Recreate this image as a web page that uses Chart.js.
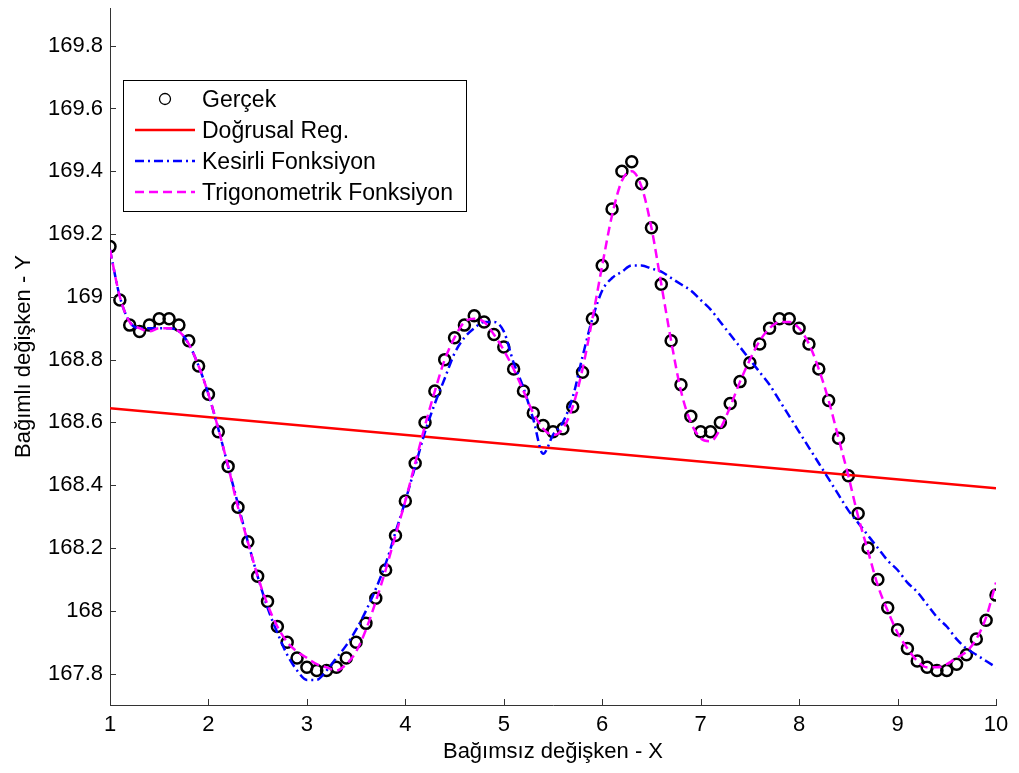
<!DOCTYPE html>
<html lang="tr">
<head>
<meta charset="UTF-8">
<title>Regresyon karşılaştırma</title>
<script src="https://cdn.jsdelivr.net/npm/chart.js@4.4.1/dist/chart.umd.min.js"></script>
<style>
    body { margin: 0; background: #fff; }
    #wrap { width: 1019px; height: 773px; }
</style>
</head>
<body>
<div id="wrap"><canvas id="chart" width="1019" height="773"></canvas></div>
<script>
// x değerleri (1..10, 0.1 adım)
const xVals = [1.0,1.1,1.2,1.3,1.4,1.5,1.6,1.7,1.8,1.9,
    2.0,2.1,2.2,2.3,2.4,2.5,2.6,2.7,2.8,2.9,
    3.0,3.1,3.2,3.3,3.4,3.5,3.6,3.7,3.8,3.9,
    4.0,4.1,4.2,4.3,4.4,4.5,4.6,4.7,4.8,4.9,
    5.0,5.1,5.2,5.3,5.4,5.5,5.6,5.7,5.8,5.9,
    6.0,6.1,6.2,6.3,6.4,6.5,6.6,6.7,6.8,6.9,
    7.0,7.1,7.2,7.3,7.4,7.5,7.6,7.7,7.8,7.9,
    8.0,8.1,8.2,8.3,8.4,8.5,8.6,8.7,8.8,8.9,
    9.0,9.1,9.2,9.3,9.4,9.5,9.6,9.7,9.8,9.9,
    10.0];

// Gerçek veriler
const gercek = [169.16,168.99,168.91,168.89,168.91,168.93,168.93,168.91,168.86,168.78,
    168.69,168.57,168.46,168.33,168.22,168.11,168.03,167.95,167.90,167.85,
    167.82,167.81,167.81,167.82,167.85,167.90,167.96,168.04,168.13,168.24,
    168.35,168.47,168.60,168.70,168.80,168.87,168.91,168.94,168.92,168.88,
    168.84,168.77,168.70,168.63,168.59,168.57,168.58,168.65,168.76,168.93,
    169.10,169.28,169.40,169.43,169.36,169.22,169.04,168.86,168.72,168.62,
    168.57,168.57,168.60,168.66,168.73,168.79,168.85,168.90,168.93,168.93,
    168.90,168.85,168.77,168.67,168.55,168.43,168.31,168.20,168.10,168.01,
    167.94,167.88,167.84,167.82,167.81,167.81,167.83,167.86,167.91,167.97,
    168.05];

// Doğrusal regresyon (uç noktalar)
const linX = [1, 10];
const linY = [168.645, 168.39];

// Kesirli fonksiyon
const kesirli = [169.15,169.00,168.92,168.90,168.90,168.90,168.90,168.89,168.85,168.78,
    168.69,168.58,168.46,168.34,168.22,168.11,168.01,167.93,167.86,167.81,
    167.78,167.78,167.81,167.85,167.89,167.94,168.00,168.07,168.15,168.25,
    168.35,168.46,168.57,168.66,168.74,168.82,168.87,168.90,168.92,168.92,
    168.89,168.79,168.71,168.61,168.50,168.56,168.60,168.68,168.81,168.93,
    169.02,169.06,169.08,169.10,169.10,169.09,169.08,169.06,169.04,169.02,
    168.99,168.96,168.92,168.88,168.84,168.80,168.76,168.72,168.67,168.62,
    168.57,168.52,168.47,168.42,168.37,168.32,168.28,168.24,168.20,168.16,
    168.13,168.09,168.06,168.02,167.98,167.95,167.91,167.88,167.86,167.84,
    167.82];

// Trigonometrik fonksiyon
const trigo = [169.15,169.00,168.92,168.90,168.89,168.90,168.90,168.89,168.85,168.78,
    168.69,168.58,168.46,168.33,168.22,168.11,168.02,167.95,167.90,167.87,
    167.85,167.83,167.82,167.81,167.83,167.87,167.94,168.03,168.13,168.24,
    168.35,168.47,168.59,168.70,168.80,168.87,168.92,168.93,168.92,168.88,
    168.83,168.77,168.70,168.63,168.58,168.56,168.58,168.65,168.77,168.93,
    169.10,169.26,169.37,169.40,169.35,169.22,169.04,168.86,168.70,168.60,
    168.55,168.54,168.58,168.65,168.73,168.80,168.86,168.90,168.92,168.92,
    168.90,168.85,168.77,168.67,168.55,168.43,168.30,168.19,168.08,168.00,
    167.93,167.88,167.84,167.82,167.82,167.83,167.85,167.87,167.91,167.98,
    168.09];

const xTicks = [1, 2, 3, 4, 5, 6, 7, 8, 9, 10];
const yTicks = [167.8, 168, 168.2, 168.4, 168.6, 168.8, 169, 169.2, 169.4, 169.6, 169.8];

const FONT = "'Liberation Sans', Arial, sans-serif";
const AXIS_COLOR = '#333';

const pts = (xs, ys) => xs.map((x, i) => ({ x: x, y: ys[i] }));

// içe dönük tik çizgileri + grafik içi lejant
const extras = {
    id: 'extras',
    afterDraw(chart) {
        const ctx = chart.ctx;
        const xs = chart.scales.x, ys = chart.scales.y;
        const area = chart.chartArea;
        ctx.save();
        ctx.strokeStyle = AXIS_COLOR;
        ctx.lineWidth = 1;
        ctx.beginPath();
        xs.ticks.forEach(t => {
            const px = Math.round(xs.getPixelForValue(t.value)) + 0.5;
            ctx.moveTo(px, area.bottom);
            ctx.lineTo(px, area.bottom - 6);
        });
        ys.ticks.forEach(t => {
            const py = Math.round(ys.getPixelForValue(t.value)) + 0.5;
            ctx.moveTo(area.left, py);
            ctx.lineTo(area.left + 6, py);
        });
        ctx.stroke();

        // lejant
        const box = { x: 123.5, y: 80.5, w: 343, h: 131 };
        ctx.fillStyle = '#fff';
        ctx.fillRect(box.x, box.y, box.w, box.h);
        ctx.strokeStyle = '#000';
        ctx.lineWidth = 1;
        ctx.strokeRect(box.x, box.y, box.w, box.h);

        const rows = [99, 130, 161, 192];
        ctx.font = '23px ' + FONT;
        ctx.textBaseline = 'middle';
        ctx.textAlign = 'left';
        chart.data.datasets.forEach((ds, i) => {
            const y = rows[i];
            if (ds.showLine === false) {
                ctx.beginPath();
                ctx.setLineDash([]);
                ctx.strokeStyle = ds.borderColor;
                ctx.lineWidth = 1.3;
                ctx.arc(165, y, 5.5, 0, Math.PI * 2);
                ctx.stroke();
            } else {
                ctx.beginPath();
                ctx.setLineDash(ds.borderDash || []);
                ctx.strokeStyle = ds.borderColor;
                ctx.lineWidth = ds.borderWidth;
                ctx.moveTo(135, y);
                ctx.lineTo(195, y);
                ctx.stroke();
            }
            ctx.setLineDash([]);
            ctx.fillStyle = '#000';
            ctx.fillText(ds.label, 202, y + 2);
        });
        ctx.restore();
    }
};

new Chart(document.getElementById('chart'), {
    type: 'line',
    data: {
        datasets: [
            {
                label: 'Gerçek',
                data: pts(xVals, gercek),
                showLine: false,
                pointStyle: 'circle',
                pointRadius: 5.5,
                pointBorderWidth: 2.5,
                borderColor: '#000',
                pointBackgroundColor: 'rgba(0,0,0,0)',
                backgroundColor: 'rgba(0,0,0,0)',
                order: 4
            },
            {
                label: 'Doğrusal Reg.',
                data: pts(linX, linY),
                borderColor: '#ff0000',
                borderWidth: 2.5,
                pointRadius: 0,
                order: 3
            },
            {
                label: 'Kesirli Fonksiyon',
                data: pts(xVals, kesirli),
                borderColor: '#0000ff',
                borderWidth: 2.5,
                borderDash: [9, 4, 2, 4],
                pointRadius: 0,
                cubicInterpolationMode: 'monotone',
                order: 2
            },
            {
                label: 'Trigonometrik Fonksiyon',
                data: pts(xVals, trigo),
                borderColor: '#ff00ff',
                borderWidth: 2.5,
                borderDash: [9, 5],
                pointRadius: 0,
                cubicInterpolationMode: 'monotone',
                order: 1
            }
        ]
    },
    options: {
        responsive: false,
        animation: false,
        events: [],
        layout: { padding: { top: 7, right: 23, left: 0, bottom: 0 } },
        plugins: {
            legend: { display: false },
            tooltip: { enabled: false }
        },
        scales: {
            x: {
                type: 'linear',
                position: 'bottom',
                min: 1,
                max: 10,
                grid: { display: false, drawTicks: false },
                border: { display: true, color: AXIS_COLOR, width: 1 },
                afterBuildTicks: axis => { axis.ticks = xTicks.map(v => ({ value: v })); },
                afterFit: axis => {
                    axis.height = 68;
                    axis.paddingLeft = 0;
                    axis.paddingRight = 0;
                },
                ticks: {
                    font: { family: FONT, size: 22 },
                    color: '#000',
                    padding: 7,
                    maxRotation: 0,
                    autoSkip: false,
                    callback: v => String(v)
                },
                title: {
                    display: true,
                    text: 'Bağımsız değişken - X',
                    font: { family: FONT, size: 22 },
                    color: '#000',
                    padding: { top: 0, bottom: 8 }
                }
            },
            y: {
                type: 'linear',
                position: 'left',
                min: 167.7,
                max: 169.92,
                grid: { display: false, drawTicks: false },
                border: { display: true, color: AXIS_COLOR, width: 1 },
                afterBuildTicks: axis => { axis.ticks = yTicks.map(v => ({ value: v })); },
                afterFit: axis => {
                    axis.width = 110;
                    axis.paddingTop = 0;
                    axis.paddingBottom = 0;
                },
                ticks: {
                    font: { family: FONT, size: 22 },
                    color: '#000',
                    padding: 7,
                    autoSkip: false,
                    callback: v => String(Number(v.toFixed(1)))
                },
                title: {
                    display: true,
                    text: 'Bağımlı değişken - Y',
                    font: { family: FONT, size: 22 },
                    color: '#000',
                    padding: { top: 11, bottom: 0 }
                }
            }
        }
    },
    plugins: [extras]
});
</script>
</body>
</html>
